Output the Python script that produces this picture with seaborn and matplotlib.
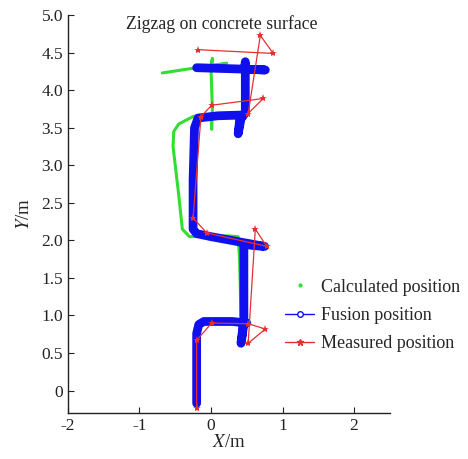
import matplotlib
matplotlib.use('Agg')
import matplotlib.pyplot as plt
from matplotlib.lines import Line2D
import seaborn as sns

# calculated position (green)
calc_x = [-0.20, -0.20, -0.10, 0.45, 0.42, 0.40, 0.38, 0.25, -0.30, -0.40, -0.45, -0.53,
          -0.52, -0.45, -0.25, 0.00, 0.01, 0.02, 0.00, 0.02, 0.00, 0.22, -0.20, -0.68]
calc_y = [-0.10, 0.85, 0.93, 0.92, 1.00, 1.75, 2.05, 2.06, 2.05, 2.15, 2.60, 3.25,
          3.45, 3.55, 3.65, 3.68, 3.48, 3.75, 4.30, 4.42, 4.30, 4.36, 4.30, 4.23]

# fusion position (blue)
fus_x = [-0.20, -0.20, -0.17, -0.10, 0.30, 0.50, 0.45, 0.42, 0.44, 0.46, 0.46, 0.46,
         0.60, 0.75, 0.40, 0.00, -0.20, -0.25, -0.25, -0.23, -0.18, 0.10, 0.45, 0.40,
         0.38, 0.42, 0.48, 0.48, 0.47, 0.76, 0.50, -0.20]
fus_y = [-0.17, 0.76, 0.88, 0.92, 0.92, 0.90, 0.88, 0.63, 0.75, 0.90, 1.50, 1.95,
         1.93, 1.92, 1.98, 2.05, 2.09, 2.15, 2.80, 3.50, 3.63, 3.66, 3.67, 3.60,
         3.42, 3.62, 3.70, 4.38, 4.28, 4.27, 4.28, 4.30]

# measured position (red)
meas_x = [-0.20, -0.20, 0.01, 0.52, 0.76, 0.52, 0.62, 0.78, -0.06, -0.25,
          -0.14, 0.01, 0.73, 0.52, 0.69, 0.87, -0.18]
meas_y = [-0.23, 0.67, 0.90, 0.89, 0.82, 0.63, 2.15, 1.92, 2.10, 2.30,
          3.65, 3.80, 3.89, 3.69, 4.73, 4.49, 4.54]

sns.set_style('ticks')
plt.rcParams['font.family'] = ['Liberation Serif', 'DejaVu Serif']
plt.rcParams['mathtext.fontset'] = 'stix'
plt.rcParams['axes.unicode_minus'] = False

fig = plt.figure(figsize=(4.68, 4.59), dpi=100)
ax = fig.add_axes([0.145, 0.100, 0.688, 0.867])

sns.lineplot(x=calc_x, y=calc_y, sort=False, estimator=None, color='#33dd33',
             lw=2.2, ax=ax)
sns.lineplot(x=fus_x, y=fus_y, sort=False, estimator=None, color='#1010ee',
             lw=6.3, solid_capstyle='round', solid_joinstyle='round', ax=ax)
sns.lineplot(x=meas_x, y=meas_y, sort=False, estimator=None, color='#e63030',
             lw=0.9, marker='*', markersize=6, markeredgewidth=0, ax=ax)

ax.set_xlim(-2, 2.5)
ax.set_ylim(-0.3, 5.0)
ax.set_xticks([-2, -1, 0, 1, 2])
ax.set_yticks([0, 0.5, 1, 1.5, 2, 2.5, 3, 3.5, 4, 4.5, 5])
ax.set_yticklabels(['0', '0.5', '1.0', '1.5', '2.0', '2.5', '3.0', '3.5', '4.0', '4.5', '5.0'])
ax.tick_params(direction='in', labelsize=12.5, length=4, width=0.8, colors='#222222')
sns.despine(ax=ax)
for s in ['left', 'bottom']:
    ax.spines[s].set_linewidth(1.0)
    ax.spines[s].set_color('#222222')

ax.set_xlabel('$\\mathit{X}$/m', fontsize=13.5, labelpad=0)
ax.set_ylabel('$\\mathit{Y}$/m', fontsize=13.5, labelpad=6)
ax.text(0.477, 1.0, 'Zigzag on concrete surface', transform=ax.transAxes,
        ha='center', va='top', fontsize=12.8)

handles = [
    Line2D([], [], color='#33dd33', marker='.', markersize=4, lw=0),
    Line2D([], [], color='#1010ee', marker='o', markersize=4, mfc='white', lw=1),
    Line2D([], [], color='#e63030', marker='*', markersize=5, lw=1),
]
fig.legend(handles, ['Calculated position', 'Fusion position', 'Measured position'],
           loc='center left', bbox_to_anchor=(0.575, 0.313), frameon=False,
           fontsize=13, handlelength=1.6, handletextpad=0.35, labelspacing=0.62)

fig.savefig('out.png', dpi=100)
